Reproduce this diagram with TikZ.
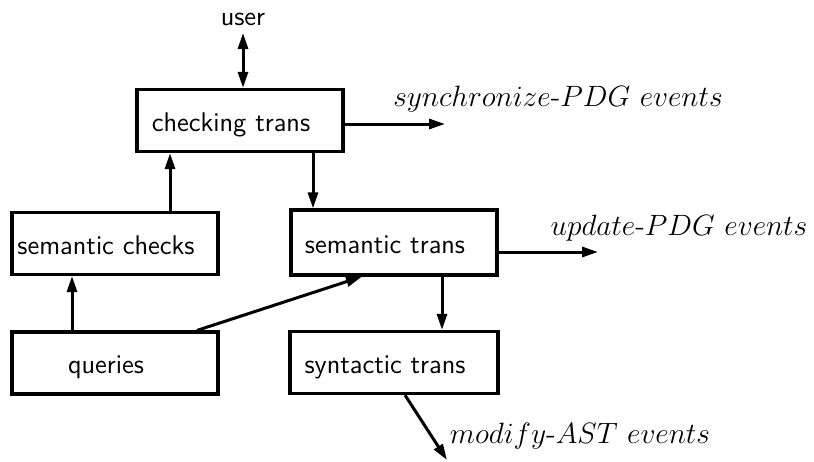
\RequirePackage{fix-cm}
\documentclass[tikz,border=0pt]{standalone}
\usetikzlibrary{arrows.meta}
\begin{document}
\begin{tikzpicture}[x=0.5pt,y=-0.5pt,
  box/.style={draw,line width=1.6pt,minimum width=103pt,minimum height=31pt,inner sep=0pt,text height=10.5pt,text depth=0pt,font=\sffamily\fontsize{13.5}{16}\selectfont},
  lbl/.style={font=\fontsize{14.7}{18}\selectfont,inner sep=0pt},
  conn/.style={line width=1.5pt,-{Triangle[length=8pt,width=5pt]}},
  bconn/.style={line width=1.5pt,{Triangle[length=8pt,width=5pt]}-{Triangle[length=8pt,width=5pt]}}]
\path[use as bounding box] (0,0) rectangle (814,461);
\node[box] (chk) at (240,120.5) {checking trans\hspace*{9pt}};
\node[box] (sc) at (115,243.5) {semantic checks\hspace*{9pt}};
\node[box,minimum height=32.5pt] (st) at (394,242.5) {semantic trans\hspace*{9pt}};
\node[box] (q) at (115,363) {queries\hspace*{9pt}};
\node[box,minimum width=104pt] (syn) at (394,362.5) {syntactic trans\hspace*{9pt}};
\node[font=\sffamily\fontsize{13.5}{16}\selectfont,inner sep=0pt,anchor=base] (user) at (243,25) {user};
\node[lbl] (sync) at (558,99) {$synchronize$-$PDG\ events$};
\node[lbl] (upd) at (679,228) {$update$-$PDG\ events$};
\node[lbl] (mod) at (580,436) {$modify$-$AST\ events$};
\coordinate (syncend) at (445,124);
\coordinate (updend) at (598,252);
\coordinate (modend) at (447,460);
\draw[bconn] (243,33) -- (chk.north -| 243,0);
\draw[conn] (chk.east |- 0,124) -- (syncend);
\draw[conn] (sc.north -| 170,0) -- (chk.south -| 170,0);
\draw[conn] (chk.south -| 313,0) -- (st.north -| 313,0);
\draw[conn] (st.east |- 0,252) -- (updend);
\draw[conn] (st.south -| 442,0) -- (syn.north -| 442,0);
\draw[conn] (q.north -| 72,0) -- (sc.south -| 72,0);
\draw[conn] (q.north -| 197,0) -- (st.south -| 362,0);
\draw[conn] (syn.south -| 405,0) -- (modend);
\end{tikzpicture}
\end{document}
